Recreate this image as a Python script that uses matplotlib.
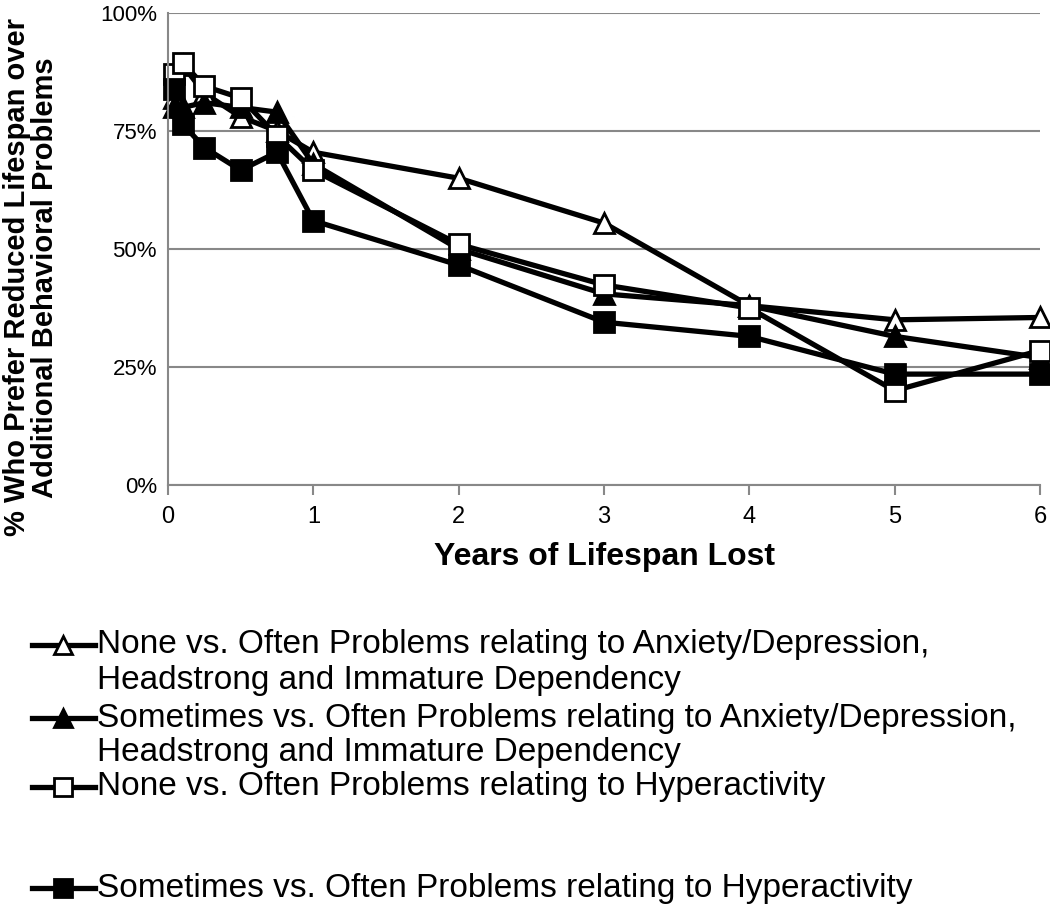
import matplotlib.pyplot as plt
from matplotlib.lines import Line2D

plt.rcParams['font.family'] = ['Liberation Sans', 'DejaVu Sans']

years = [0.04, 0.1, 0.25, 0.5, 0.75, 1, 2, 3, 4, 5, 6]

none_anx = [82, 89, 83, 78, 75, 70.5, 65, 55.5, 38, 35, 35.5]
some_anx = [80, 80, 81, 80, 79, 68, 50, 40.5, 38, 31.5, 27]
none_hyp = [87, 89.5, 84.5, 82, 74, 66.7, 51, 42.4, 37.5, 20, 28.5]
some_hyp = [84, 76.5, 71.5, 66.7, 70.5, 56, 46.6, 34.5, 31.5, 23.5, 23.5]

labels = ["None vs. Often Problems relating to Anxiety/Depression,\nHeadstrong and Immature Dependency",
          "Sometimes vs. Often Problems relating to Anxiety/Depression,\nHeadstrong and Immature Dependency",
          "None vs. Often Problems relating to Hyperactivity",
          "Sometimes vs. Often Problems relating to Hyperactivity"]

series = [none_anx, some_anx, none_hyp, some_hyp]
markers = ['^', '^', 's', 's']
faces = ['white', 'black', 'white', 'black']
msizes = [15, 15, 15, 15]

fig = plt.figure(figsize=(10.5, 9.09), dpi=100)
ax = fig.add_axes([0.16, 0.4664, 0.8305, 0.5193])

for vals, m, fc, ms in zip(series, markers, faces, msizes):
    ax.plot(years, vals, color='black', lw=3.8, marker=m, markersize=ms,
            markerfacecolor=fc, markeredgecolor='black', markeredgewidth=2, clip_on=False)

ax.set_xlim(0, 6)
ax.set_ylim(0, 100)
ax.set_yticks([0, 25, 50, 75, 100])
ax.set_yticklabels(['0%', '25%', '50%', '75%', '100%'])
ax.set_xticks(range(7))
ax.yaxis.grid(True, color='#888888', lw=1.5)
ax.set_axisbelow(True)
for s in ['top', 'right']:
    ax.spines[s].set_visible(False)
for s in ['left', 'bottom']:
    ax.spines[s].set_color('#888888')
    ax.spines[s].set_linewidth(1.5)
ax.tick_params(axis='x', colors='#888888', length=7, width=1.5, labelcolor='black', labelsize=17, pad=8)
ax.tick_params(axis='y', length=0, labelcolor='black', labelsize=16, pad=8)

ax.set_xlabel('Years of Lifespan Lost', fontsize=23, fontweight='bold', labelpad=10)
ax.set_ylabel('% Who Prefer Reduced Lifespan over\nAdditional Behavioral Problems',
              fontsize=21, fontweight='bold', labelpad=6, linespacing=1.0)
ax.yaxis.set_label_coords(-0.125, 0.44)

# legend drawn by hand below the plot
line_px = [[645, 680], [718, 752], [787], [888]]
for rows, lab, m, fc, ms in zip(line_px, labels, markers, faces, msizes):
    y = 1 - rows[0] / 909
    fig.add_artist(Line2D([0.03, 0.09], [y, y], transform=fig.transFigure, color='black', lw=3.8))
    fig.add_artist(Line2D([0.06], [y], transform=fig.transFigure, marker=m, markersize=ms - 2,
                          markerfacecolor=fc, markeredgecolor='black', markeredgewidth=2))
    for py, txt in zip(rows, lab.split('\n')):
        fig.text(0.092, 1 - py / 909, txt, fontsize=24, va='center', ha='left')

fig.savefig('out.png', dpi=100)
